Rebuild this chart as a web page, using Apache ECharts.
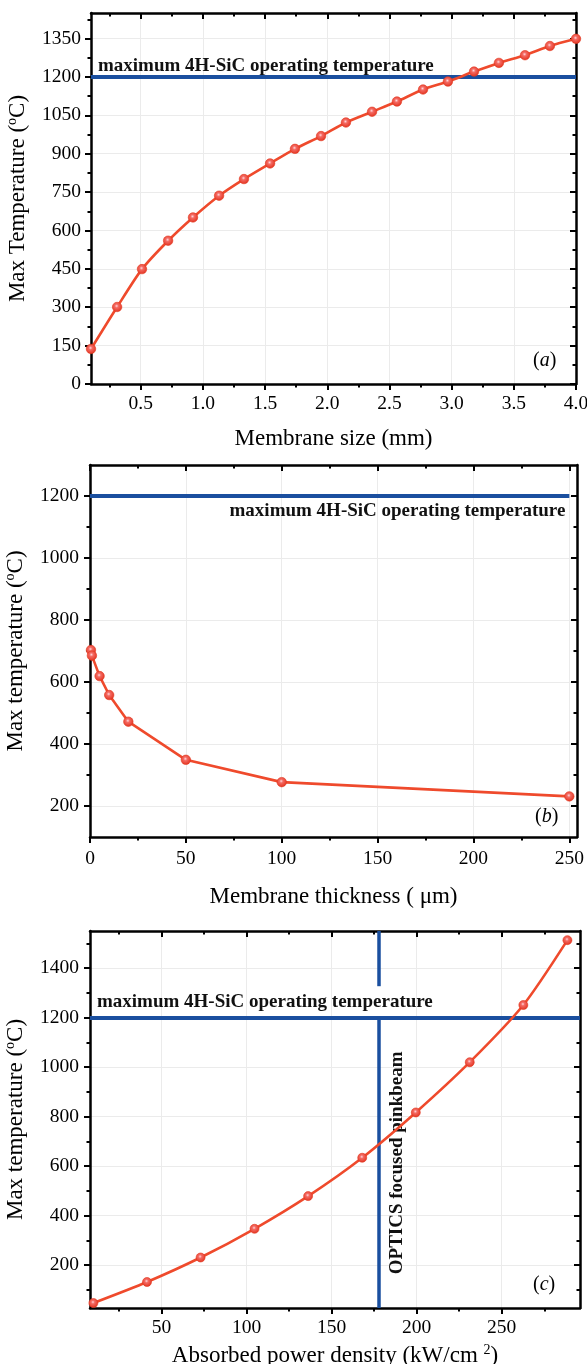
<!DOCTYPE html>
<html><head><meta charset="utf-8">
<script src="https://cdn.jsdelivr.net/npm/echarts@6/dist/echarts.min.js"></script>
<style>html,body{margin:0;padding:0;background:#fff}#c{width:587px;height:1364px}</style>
</head><body><div id="c"></div>
<script>
// ---------- data ----------
const aSize = [0.1, 0.31, 0.51, 0.72, 0.92, 1.13, 1.33, 1.54, 1.74, 1.95, 2.15, 2.36, 2.56, 2.77, 2.97, 3.18, 3.38, 3.59, 3.79, 4.0];
const aTemp = [137, 301, 449, 560, 651, 736, 801, 862, 919, 969, 1022, 1064, 1104, 1151, 1182, 1221, 1255, 1285, 1321, 1349];
const bThick = [0.5, 1, 5, 10, 20, 50, 100, 250];
const bTemp = [703, 685, 619, 558, 472, 349, 277, 231];
const cPower = [10, 41.5, 73, 104.7, 136.2, 168, 199.5, 231.2, 262.7, 288.6];
const cTemp = [47, 132, 231, 347, 479, 634, 817, 1020, 1251, 1513];

const aXTicks = [0.5, 1.0, 1.5, 2.0, 2.5, 3.0, 3.5, 4.0];
const aXMinor = [0.25, 0.75, 1.25, 1.75, 2.25, 2.75, 3.25, 3.75];
const aYTicks = [0, 150, 300, 450, 600, 750, 900, 1050, 1200, 1350];
const aYMinor = [75, 225, 375, 525, 675, 825, 975, 1125, 1275, 1425];
const bXTicks = [0, 50, 100, 150, 200, 250];
const bXMinor = [25, 75, 125, 175, 225];
const bYTicks = [200, 400, 600, 800, 1000, 1200];
const bYMinor = [300, 500, 700, 900, 1100];
const cXTicks = [50, 100, 150, 200, 250];
const cXMinor = [25, 75, 125, 175, 225, 275];
const cYTicks = [200, 400, 600, 800, 1000, 1200, 1400];
const cYMinor = [100, 300, 500, 700, 900, 1100, 1300, 1500];

const limitTemp = 1200;
const limitText = 'maximum 4H-SiC operating temperature';
const opticsPower = 178;
const opticsGapTop = 1327;
const opticsText = 'OPTICS focused pinkbeam';

const aXRange = [0.1, 4.0], aYRange = [0, 1450];
const bXRange = [0, 254], bYRange = [100, 1300];
const cXRange = [8, 296], cYRange = [27, 1550];

// ---------- styling ----------
const FONT = 'Liberation Serif';
const BLUE = '#1a4f9f';
const RED = '#ef4a2c';
const TICKFS = 19.5;
const TITLEFS = 23;

const supRich = { s: { fontSize: 14, fontFamily: FONT, color: '#000', verticalAlign: 'top', lineHeight: 14 } };

function axisSet(dim, gi, range, majors, minors, o) {
  const isX = dim === 'x';
  const pos = isX ? ['bottom', 'top'] : ['left', 'right'];
  const base = { type: 'value', gridIndex: gi, min: range[0], max: range[1] };
  const line = { show: true, onZero: false, lineStyle: { color: '#000', width: 2.5 } };
  const noLine = { show: false, onZero: false };
  const tickStyle = { color: '#000', width: 2 };
  return [
    Object.assign({}, base, {
      position: pos[0], axisLine: line,
      axisTick: { show: true, inside: false, length: 6, customValues: majors, lineStyle: tickStyle },
      axisLabel: { show: true, customValues: majors, formatter: o.fmt, margin: o.margin, color: '#000', fontFamily: FONT, fontSize: TICKFS },
      splitLine: { show: true, lineStyle: { color: '#ebebeb', width: 1 } },
      name: o.name, nameLocation: 'middle', nameGap: o.gap,
      nameTextStyle: { fontFamily: FONT, fontSize: TITLEFS, color: '#000', lineHeight: 26, rich: supRich }
    }),
    Object.assign({}, base, {
      position: pos[0], axisLine: noLine,
      axisTick: { show: true, inside: false, length: 3.5, customValues: minors, lineStyle: tickStyle },
      axisLabel: { show: false }, splitLine: { show: false }
    }),
    Object.assign({}, base, {
      position: pos[1], axisLine: line,
      axisTick: { show: true, inside: true, length: 6, customValues: majors, lineStyle: tickStyle },
      axisLabel: { show: false }, splitLine: { show: false }
    }),
    Object.assign({}, base, {
      position: pos[1], axisLine: noLine,
      axisTick: { show: true, inside: true, length: 3.5, customValues: minors, lineStyle: tickStyle },
      axisLabel: { show: false }, splitLine: { show: false }
    })
  ];
}

const markerStyle = {
  color: {
    type: 'radial', x: 0.45, y: 0.4, r: 0.6,
    colorStops: [
      { offset: 0, color: '#ffd6dc' },
      { offset: 0.3, color: '#f46a62' },
      { offset: 1, color: '#e2321f' }
    ]
  },
  borderColor: '#e2381f', borderWidth: 0.6
};

const annoLabel = { fontFamily: FONT, fontWeight: 'bold', fontSize: 19, color: '#111' };
const blueLine = { color: BLUE, width: 4, type: 'solid' };

function dataSeries(gi, xs, ys, smooth, size, marks) {
  return {
    type: 'line', xAxisIndex: gi * 4, yAxisIndex: gi * 4,
    data: xs.map((x, i) => [x, ys[i]]),
    smooth: smooth,
    symbol: 'circle', symbolSize: size, showSymbol: true,
    lineStyle: { color: RED, width: 2.6 },
    itemStyle: markerStyle,
    z: 3,
    markLine: {
      silent: true, symbol: ['none', 'none'], z: 1, animation: false,
      label: { show: false },
      data: marks
    }
  };
}

const option = {
  backgroundColor: '#fff',
  animation: false,
  grid: [
    { left: 91, top: 13, width: 485, height: 371, outerBoundsMode: 'none', containLabel: false },
    { left: 90, top: 465, width: 487, height: 372, outerBoundsMode: 'none', containLabel: false },
    { left: 90, top: 931, width: 490, height: 377, outerBoundsMode: 'none', containLabel: false }
  ],
  xAxis: [].concat(
    axisSet('x', 0, aXRange, aXTicks, aXMinor, { fmt: v => v.toFixed(1), margin: 10, name: 'Membrane size (mm)', gap: 42 }),
    axisSet('x', 1, bXRange, bXTicks, bXMinor, { fmt: v => String(v), margin: 12, name: 'Membrane thickness ( μm)', gap: 47 }),
    axisSet('x', 2, cXRange, cXTicks, cXMinor, { fmt: v => String(v), margin: 10, name: 'Absorbed power density (kW/cm {s|2})', gap: 35 })
  ),
  yAxis: [].concat(
    axisSet('y', 0, aYRange, aYTicks, aYMinor, { fmt: v => String(v), margin: 10, name: 'Max Temperature ({s|o}C)', gap: 54 }),
    axisSet('y', 1, bYRange, bYTicks, bYMinor, { fmt: v => String(v), margin: 11, name: 'Max temperature ({s|o}C)', gap: 54 }),
    axisSet('y', 2, cYRange, cYTicks, cYMinor, { fmt: v => String(v), margin: 11, name: 'Max temperature ({s|o}C)', gap: 54 })
  ),
  series: [
    dataSeries(0, aSize, aTemp, 0.25, 9.5, [
      { yAxis: limitTemp, lineStyle: blueLine,
        label: Object.assign({ show: true, position: 'insideStartTop', formatter: limitText, distance: [7, 1] }, annoLabel) }
    ]),
    dataSeries(1, bThick, bTemp, false, 9.5, [
      [{ coord: [bXRange[0], limitTemp], lineStyle: blueLine,
         label: Object.assign({ show: true, position: 'insideEndBottom', formatter: limitText, distance: [4, 6] }, annoLabel) },
       { coord: [250, limitTemp] }]
    ]),
    dataSeries(2, cPower, cTemp, 0.25, 9, [
      { yAxis: limitTemp, lineStyle: blueLine,
        label: Object.assign({ show: true, position: 'insideStartTop', formatter: limitText, distance: [7, 6] }, annoLabel) },
      [{ coord: [opticsPower, cYRange[0]], lineStyle: { color: BLUE, width: 3.5, type: 'solid' },
         label: Object.assign({ show: true, position: 'insideMiddleBottom', formatter: opticsText, distance: [0, 8] }, annoLabel) },
       { coord: [opticsPower, limitTemp] }],
      [{ coord: [opticsPower, opticsGapTop], lineStyle: { color: BLUE, width: 3.5, type: 'solid' } },
       { coord: [opticsPower, cYRange[1]] }]
    ])
  ],
  graphic: [
    { type: 'text', left: 533, top: 351, style: { text: '({i|a})', fontFamily: FONT, fontSize: 20, fill: '#000', rich: { i: { fontFamily: FONT, fontSize: 20, fontStyle: 'italic', fill: '#000' } } } },
    { type: 'text', left: 535, top: 807, style: { text: '({i|b})', fontFamily: FONT, fontSize: 20, fill: '#000', rich: { i: { fontFamily: FONT, fontSize: 20, fontStyle: 'italic', fill: '#000' } } } },
    { type: 'text', left: 533, top: 1275, style: { text: '({i|c})', fontFamily: FONT, fontSize: 20, fill: '#000', rich: { i: { fontFamily: FONT, fontSize: 20, fontStyle: 'italic', fill: '#000' } } } }
  ]
};

const chart = echarts.init(document.getElementById('c'), null, { renderer: 'canvas' });
chart.setOption(option);
</script>
</body></html>
